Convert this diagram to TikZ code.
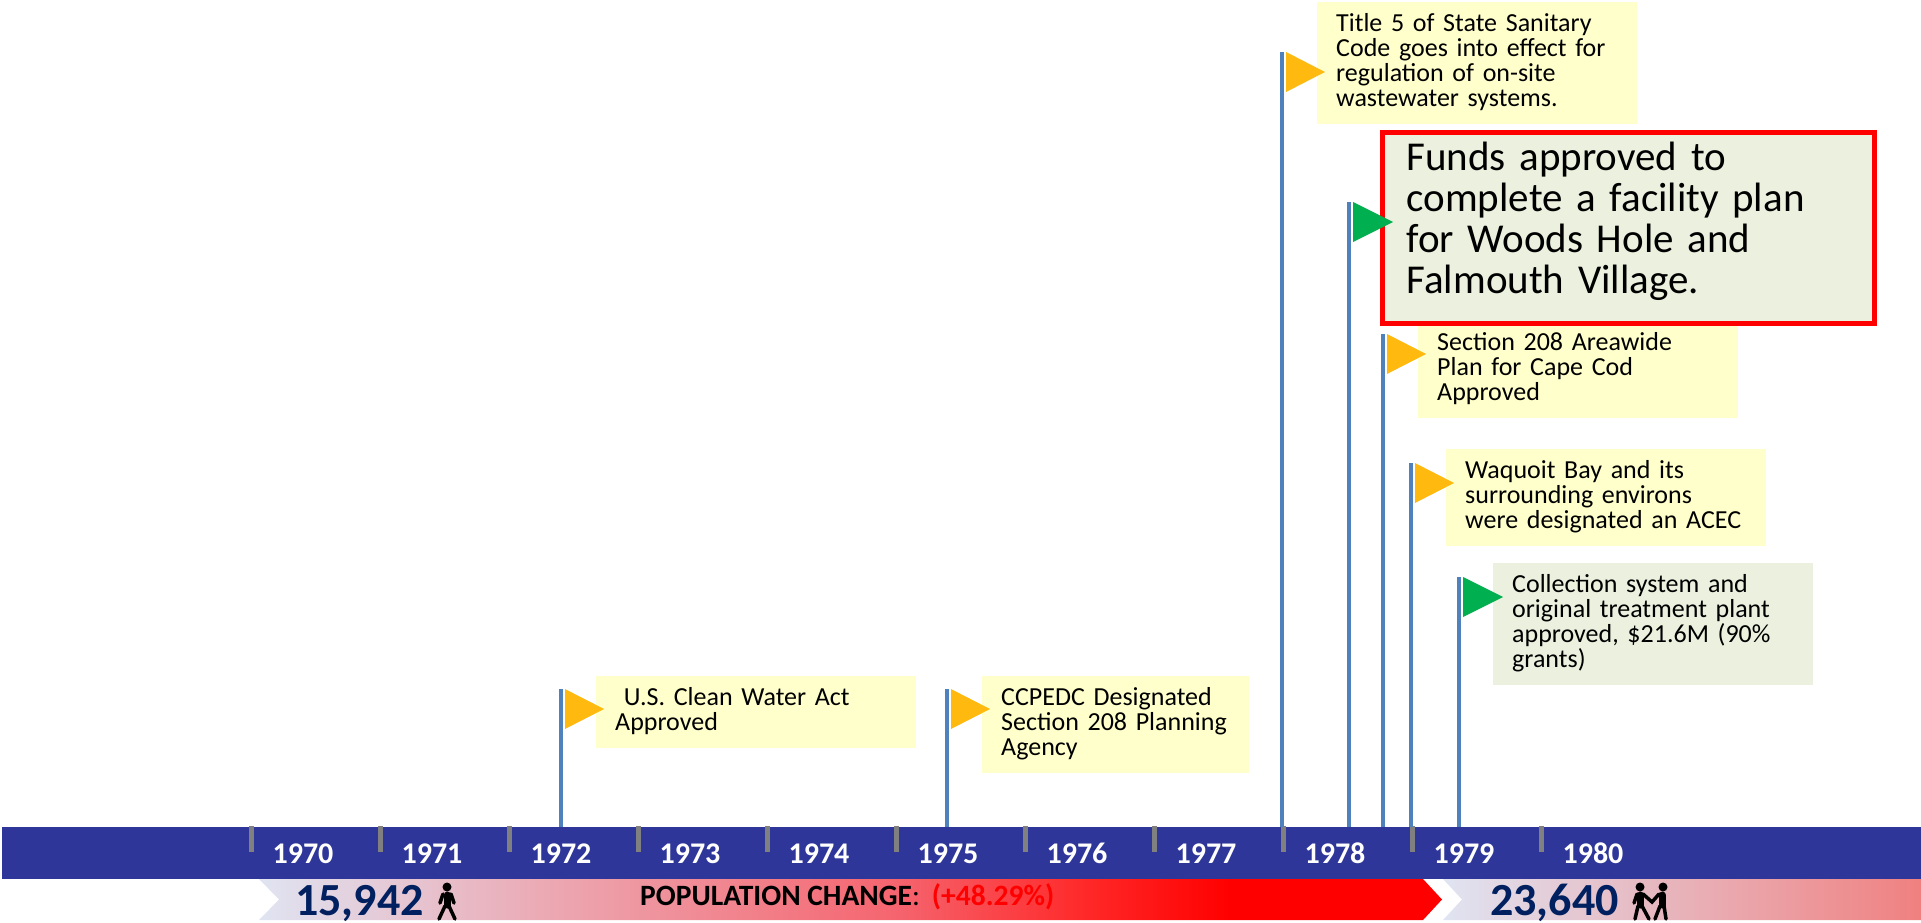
\documentclass[tikz,border=0pt]{standalone}
\usepackage{fontspec}
\setmainfont{Carlito}
\usepackage{tikz}
\usetikzlibrary{positioning}
\definecolor{bandblue}{RGB}{46,55,153}
\definecolor{tickgray}{RGB}{128,128,128}
\definecolor{polesteel}{RGB}{79,129,189}
\definecolor{flagamber}{RGB}{255,185,15}
\definecolor{flaggreen}{RGB}{0,176,80}
\definecolor{noteyellow}{RGB}{255,255,204}
\definecolor{notegreen}{RGB}{235,241,222}
\definecolor{popnavy}{RGB}{0,32,96}
\definecolor{poplav}{RGB}{224,228,242}
\definecolor{poppink}{RGB}{237,160,170}
\definecolor{poprose}{RGB}{245,100,110}
\definecolor{poprub}{RGB}{255,40,40}
\definecolor{popsalmon}{RGB}{240,128,128}
\pgfdeclarehorizontalshading{popshade}{100bp}{color(0bp)=(poplav); color(25bp)=(poplav); color(39bp)=(poppink); color(52bp)=(poprose); color(60bp)=(poprub); color(66bp)=(red); color(100bp)=(red)}

\begin{document}
\begin{tikzpicture}[x=1pt, y=-1pt,
  note/.style = {fill=noteyellow, anchor=north west, align=left, inner xsep=19pt, inner ysep=0pt, text height=29pt, font=\fontsize{26}{25}\selectfont},
  pole/.style = {draw=polesteel, line width=3.5pt},
  yr/.style = {text=white, anchor=base, inner sep=0pt, font=\bfseries\fontsize{30}{30}\selectfont},
  popnum/.style = {text=popnavy, anchor=base west, inner sep=0pt, font=\bfseries\fontsize{46}{46}\selectfont},
  limb/.style = {line width=3.5pt, line cap=round},
  trunk/.style = {line width=7pt, line cap=round}]
  \useasboundingbox (0,0) rectangle (1921,923);
  \node[fill=bandblue, minimum width=1919pt, minimum height=52pt, inner sep=0pt] (band) at (961.5,853) {};
  \foreach \i in {0,...,10}{
    \fill[tickgray] (248.5+129*\i,826) rectangle ++(5,26);
    \pgfmathtruncatemacro{\yr}{1970+\i}
    \node[yr] (y\yr) at (303+129*\i,863) {\yr};
  }
  \path[shading=popshade] (259,879) -- (1423,879) -- (1442,899.5) -- (1423,920) -- (259,920) -- (279,899.5) -- cycle;
  \path[left color=poplav, right color=popsalmon] (1443,879) -- (1921,879) -- (1921,920) -- (1443,920) -- (1462,899.5) -- cycle;
  \node[popnum] (pop70) at (295,915) {15,942};
  \node[popnum] (pop80) at (1490,915) {23,640};
  \node[anchor=base west, inner sep=0pt, font=\bfseries\fontsize{29.5}{30}\selectfont] (popchg) at (640,905) {POPULATION CHANGE\textmd{:}\hspace{12pt}\textcolor{red}{(+48.29\%)}};
  \fill (447,887) circle (4.5pt);
  \draw[trunk] (447,895) -- (447,905);
  \draw[limb] (443,894) -- (440,903) (451,894) -- (454,903) (445,906) -- (439,919) (449,906) -- (455,919);
  \fill (1640,887) circle (4.5pt) (1663,887) circle (4.5pt);
  \draw[trunk] (1640,895) -- (1640,905) (1662,895) -- (1662,905);
  \draw[limb] (1637,894) -- (1634,903) (1643,894) -- (1652,902) -- (1659,894) (1638,906) -- (1635,919) (1642,906) -- (1649,919) (1660,906) -- (1655,919) (1664,906) -- (1666,919);

  \coordinate (p-clean) at (561,689);
  \coordinate (p-ccpedc) at (947,689);
  \coordinate (p-title5) at (1282,52);
  \coordinate (p-funds) at (1349,202);
  \coordinate (p-area208) at (1383,334);
  \coordinate (p-waquoit) at (1411,463);
  \coordinate (p-collect) at (1459,577);
  \foreach \p in {clean,ccpedc,title5,funds,area208,waquoit,collect}
    \draw[pole] (p-\p) -- (p-\p |- band.north);

  \node[note, text width=282pt, text depth=43pt] (clean) at (596,676) {~U.S. Clean Water Act\\Approved};
  \node[note, text width=229pt, text depth=68pt] (ccpedc) at (982,676) {CCPEDC Designated\\Section 208 Planning\\Agency};
  \node[note, text width=282pt, text depth=93pt] (title5) at (1317,2) {Title 5 of State Sanitary\\Code goes into effect for\\regulation of on-site\\wastewater systems.};
  \node[note, text width=282pt, text depth=68pt] (area208) at (1418,321) {Section 208 Areawide\\Plan for Cape Cod\\Approved};
  \node[note, text width=282pt, text depth=68pt] (waquoit) at (1446,449) {Waquoit Bay and its\\surrounding environs\\were designated an ACEC};
  \node[note, fill=notegreen, text width=282pt, text depth=93pt] (collect) at (1493,563) {Collection system and\\original treatment plant\\approved, \$21.6M (90\%\\grants)};
  \node[note, fill=notegreen, draw=red, line width=5pt, inner xsep=24pt, text width=444pt, text height=37.5pt, text depth=152.5pt, font=\fontsize{41}{41}\selectfont] (funds) at (1380,130.5) {Funds approved to\\complete a facility plan\\for Woods Hole and\\Falmouth Village.};

  \foreach \p in {clean,ccpedc,title5,area208,waquoit}
    \fill[flagamber] (p-\p) ++(4,0) -- ++(0,40) -- ++(39,-20) -- cycle;
  \foreach \p in {funds,collect}
    \fill[flaggreen] (p-\p) ++(4,0) -- ++(0,40) -- ++(40,-20) -- cycle;
\end{tikzpicture}
\end{document}
